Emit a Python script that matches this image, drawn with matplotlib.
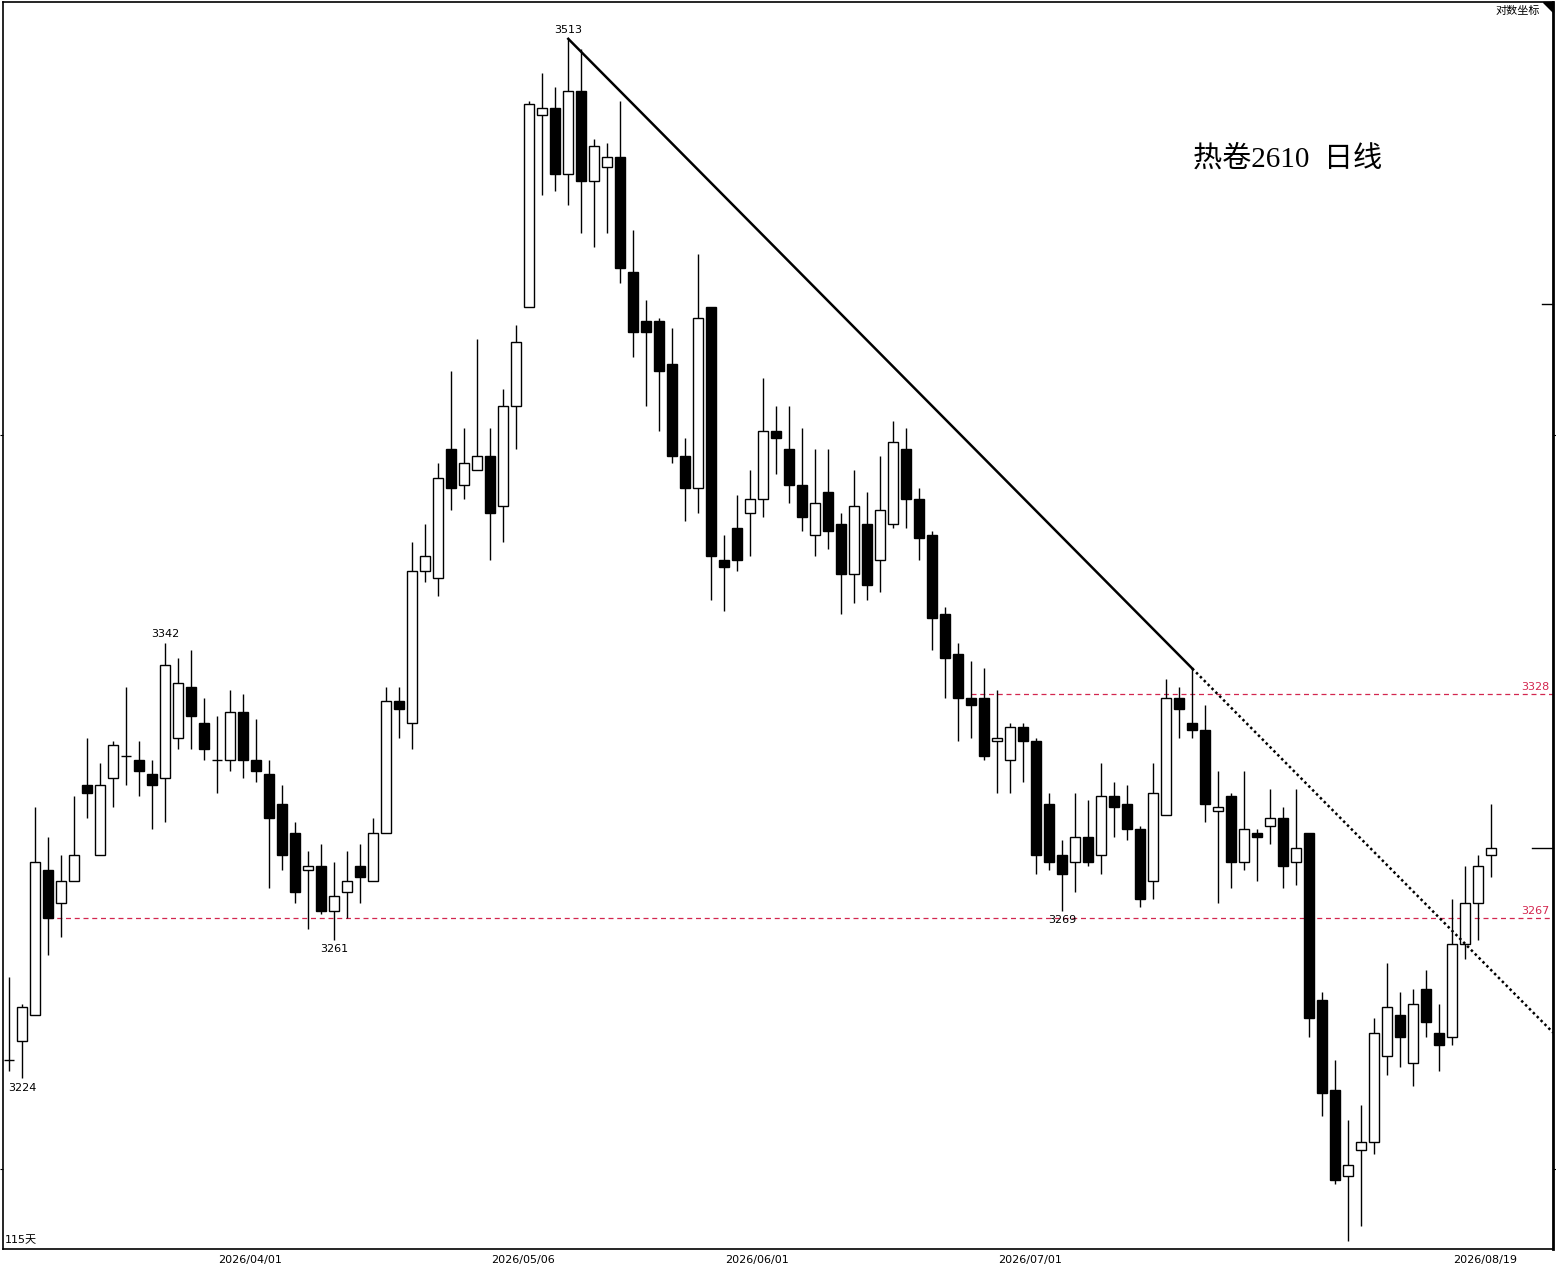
import numpy as np
import matplotlib.pyplot as plt
import matplotlib.transforms as mtransforms
from matplotlib.patches import Polygon
from matplotlib.ticker import FixedLocator, NullLocator, NullFormatter

plt.rcParams['font.family'] = ['DejaVu Sans', 'Noto Sans CJK SC']

# daily OHLC, 115 trading days
opens = [3229, 3234, 3241, 3280, 3271, 3277, 3303, 3284, 3305, 3311,
         3310, 3306, 3305, 3316, 3330, 3320, 3310, 3310, 3323, 3310,
         3306, 3298, 3290, 3280, 3281, 3269, 3274, 3281, 3277, 3290,
         3326, 3320, 3362, 3360, 3396, 3386, 3390, 3394, 3380, 3408,
         3436, 3491, 3493, 3474, 3498, 3472, 3476, 3479, 3446, 3432,
         3432, 3420, 3394, 3385, 3436, 3365, 3374, 3378, 3382, 3401,
         3396, 3386, 3372, 3384, 3375, 3361, 3375, 3365, 3375, 3396,
         3382, 3372, 3350, 3339, 3327, 3327, 3315, 3310, 3319, 3315,
         3298, 3284, 3282, 3289, 3284, 3300, 3298, 3291, 3277, 3295,
         3327, 3320, 3318, 3296, 3300, 3282, 3290, 3292, 3294, 3282,
         3290, 3245, 3221, 3198, 3205, 3207, 3230, 3241, 3228, 3248,
         3236, 3235, 3260, 3271, 3284]
highs = [3251, 3244, 3297, 3289, 3284, 3300, 3316, 3309, 3315, 3330,
         3315, 3310, 3342, 3338, 3340, 3327, 3322, 3329, 3328, 3321,
         3310, 3303, 3293, 3285, 3287, 3282, 3285, 3287, 3294, 3330,
         3330, 3370, 3375, 3392, 3418, 3402, 3427, 3402, 3413, 3431,
         3495, 3503, 3499, 3513, 3510, 3484, 3483, 3495, 3458, 3438,
         3433, 3430, 3399, 3451, 3436, 3372, 3383, 3390, 3416, 3408,
         3408, 3402, 3396, 3396, 3378, 3390, 3384, 3394, 3404, 3402,
         3385, 3373, 3352, 3342, 3337, 3335, 3329, 3320, 3320, 3316,
         3301, 3288, 3301, 3299, 3309, 3304, 3303, 3292, 3309, 3332,
         3330, 3335, 3325, 3307, 3301, 3307, 3291, 3302, 3297, 3302,
         3290, 3247, 3229, 3213, 3217, 3240, 3255, 3247, 3248, 3253,
         3244, 3272, 3281, 3284, 3298]
lows = [3226, 3224, 3241, 3257, 3262, 3277, 3294, 3284, 3297, 3303,
        3300, 3291, 3293, 3313, 3313, 3310, 3301, 3307, 3305, 3304,
        3275, 3280, 3271, 3264, 3268, 3261, 3267, 3271, 3277, 3290,
        3316, 3313, 3359, 3355, 3379, 3382, 3390, 3365, 3370, 3396,
        3436, 3468, 3469, 3465, 3457, 3453, 3457, 3443, 3422, 3408,
        3401, 3392, 3376, 3378, 3354, 3351, 3362, 3366, 3377, 3389,
        3381, 3373, 3366, 3368, 3350, 3353, 3354, 3356, 3374, 3374,
        3365, 3340, 3327, 3315, 3316, 3310, 3301, 3301, 3304, 3279,
        3280, 3269, 3274, 3281, 3279, 3289, 3288, 3270, 3272, 3295,
        3316, 3316, 3293, 3271, 3275, 3280, 3277, 3287, 3275, 3276,
        3235, 3214, 3196, 3181, 3185, 3204, 3225, 3227, 3222, 3235,
        3226, 3233, 3256, 3261, 3278]
closes = [3229, 3243, 3282, 3267, 3277, 3284, 3301, 3303, 3314, 3311,
          3307, 3303, 3336, 3331, 3322, 3313, 3310, 3323, 3310, 3307,
          3294, 3284, 3274, 3281, 3269, 3273, 3277, 3278, 3290, 3326,
          3324, 3362, 3366, 3388, 3385, 3392, 3394, 3378, 3408, 3426,
          3494, 3493, 3474, 3498, 3472, 3482, 3479, 3447, 3429, 3429,
          3418, 3394, 3385, 3433, 3366, 3363, 3365, 3382, 3401, 3399,
          3386, 3377, 3381, 3373, 3361, 3380, 3358, 3379, 3398, 3382,
          3371, 3349, 3338, 3327, 3325, 3311, 3316, 3319, 3315, 3284,
          3282, 3279, 3289, 3282, 3300, 3297, 3291, 3272, 3301, 3327,
          3324, 3318, 3298, 3297, 3282, 3291, 3289, 3294, 3281, 3286,
          3240, 3220, 3197, 3201, 3207, 3236, 3243, 3235, 3244, 3239,
          3233, 3260, 3271, 3281, 3286]

date_idx = [18, 39, 57, 78, 113]
date_labels = ['2026/04/01', '2026/05/06', '2026/06/01', '2026/07/01', '2026/08/19']

levels = [3328, 3267]
level_start = [74, 3]
marks = [(43, 'high'), (12, 'high'), (25, 'low'), (81, 'low'), (1, 'low')]
trend_a, trend_b = 43, 91
ref_price = 3437
grid_prices = [3200, 3400]

o = np.array(opens, float)
h = np.array(highs, float)
l = np.array(lows, float)
c = np.array(closes, float)
x = np.arange(len(o))

fig = plt.figure(figsize=(15.56, 12.69), dpi=100)
ax = fig.add_axes([3 / 1556, 1 - 1249 / 1269, 1550 / 1556, 1247 / 1269])
ax.set_yscale('log')
xmin, xmax = -0.485, 118.75
ax.set_xlim(xmin, xmax)
ax.set_ylim(3178.9, 3523.7)

# candles
up = c >= o
ax.vlines(x, l, h, color='black', lw=1.0, zorder=2)
ax.bar(x, np.abs(c - o), bottom=np.minimum(o, c), width=0.76,
       color=np.where(up, 'white', 'black'), edgecolor='black', lw=1.0, zorder=3)

# support / resistance
red = '#d3264f'
btrans = mtransforms.blended_transform_factory(ax.transAxes, ax.transData)
for lv, st in zip(levels, level_start):
    ax.hlines(lv, st, xmax, color=red, lw=0.9, ls=(0, (4, 3)), zorder=1)
    ax.annotate(str(lv), (0.998, lv), xycoords=btrans, xytext=(0, 1.5),
                textcoords='offset points', ha='right', va='bottom',
                color=red, fontsize=8)

# trend line
slope = (np.log(h[trend_b]) - np.log(h[trend_a])) / (trend_b - trend_a)
ax.plot([trend_a, trend_b], [h[trend_a], h[trend_b]], color='black', lw=1.8, zorder=4)
y_end = h[trend_b] * np.exp(slope * (xmax - trend_b))
ax.plot([trend_b, xmax], [h[trend_b], y_end], color='black', lw=1.8,
        ls=(0, (1, 1.2)), zorder=4)

# high / low labels
for i, kind in marks:
    if kind == 'high':
        ax.annotate(f'{h[i]:.0f}', (i, h[i]), xytext=(0, 3), textcoords='offset points',
                    ha='center', va='bottom', fontsize=8)
    else:
        ax.annotate(f'{l[i]:.0f}', (i, l[i]), xytext=(0, -3), textcoords='offset points',
                    ha='center', va='top', fontsize=8)

# right edge markers
ax.plot([1 - 21 / 1550, 1], [c[-1], c[-1]], color='black', lw=1, transform=btrans, clip_on=False)
ax.plot([1 - 11 / 1550, 1], [ref_price, ref_price], color='black', lw=1, transform=btrans, clip_on=False)

ax.text(0.7677, 0.874, '热卷2610  日线', transform=ax.transAxes, ha='left', va='center',
        fontsize=21, family=['Liberation Serif', 'Noto Sans CJK SC'])
ax.text(0.9916, 0.9928, '对数坐标', transform=ax.transAxes, ha='right', va='center',
        fontsize=8, family=['Noto Sans CJK SC', 'DejaVu Sans'])
ax.text(0.001, 0.0072, '115天', transform=ax.transAxes, ha='left', va='center',
        fontsize=8, family=['DejaVu Sans', 'Noto Sans CJK SC'])
ax.add_patch(Polygon([[0.9935, 1.0], [1.0, 1.0], [1.0, 0.992]], closed=True,
                     transform=ax.transAxes, color='black', clip_on=False))

# axes
ax.set_xticks([i + 0.5 for i in date_idx])
ax.set_xticklabels(date_labels, fontsize=8)
ax.tick_params(axis='x', length=0, pad=4)
ax.yaxis.set_major_locator(FixedLocator(grid_prices))
ax.yaxis.set_minor_locator(NullLocator())
ax.yaxis.set_major_formatter(NullFormatter())
ax.yaxis.set_minor_formatter(NullFormatter())
ax.tick_params(axis='y', which='both', left=True, right=True, length=2, direction='out')
for side in ['left', 'top', 'bottom']:
    ax.spines[side].set_linewidth(1.2)
ax.spines['right'].set_linewidth(2)

fig.savefig('out.png', dpi=100)
